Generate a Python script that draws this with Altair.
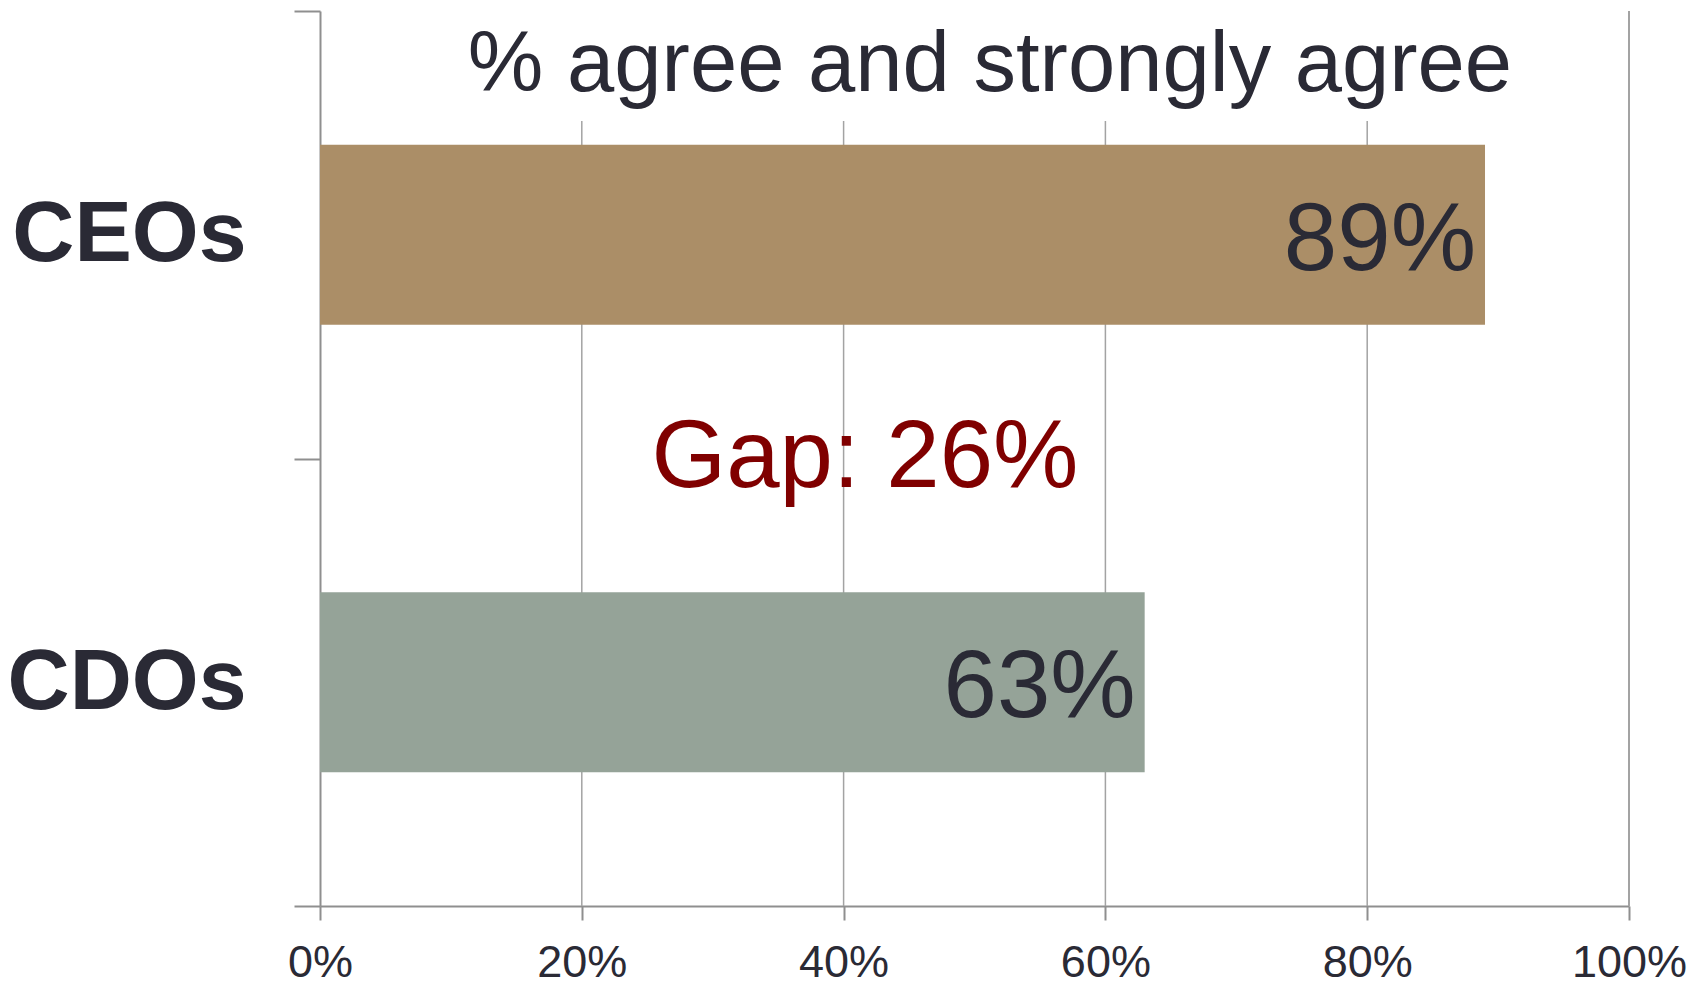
import altair as alt
import pandas as pd

# ---- data ----
categories = ["CEOs", "CDOs"]
values = [89, 63]
bar_colors = ["#ab8e67", "#95a398"]
x_ticks = [0, 20, 40, 60, 80, 100]
inner_grid = [20, 40, 60, 80]
outer_grid = [100]
title_text = "% agree and strongly agree"
gap_text = f"Gap: {values[0] - values[1]}%"

df = pd.DataFrame({"cat": categories, "val": values, "color": bar_colors,
                   "label": [f"{v}%" for v in values]})

W, H = 1309, 895
FONT = "Liberation Sans"
DARK = "#2a2a35"
AXIS = "#8f8f8f"
GRID = "#a3a3a3"

x_scale = alt.Scale(domain=[0, 100], nice=False, zero=True)
y_scale = alt.Scale(domain=categories, paddingInner=0, paddingOuter=0)

x_enc = alt.X("val:Q", scale=x_scale, title=None,
              axis=alt.Axis(values=x_ticks, labelExpr="datum.value + '%'",
                            grid=False, tickSize=14, tickWidth=2, tickColor=AXIS,
                            domainColor=AXIS, domainWidth=2,
                            labelFont=FONT, labelFontSize=45, labelColor=DARK,
                            labelPadding=20, labelFlush=False))
y_enc = alt.Y("cat:N", scale=y_scale, sort=categories, title=None,
              axis=alt.Axis(tickBand="extent", grid=False, tickSize=26, tickWidth=2,
                            tickColor=AXIS, domainColor=AXIS, domainWidth=2,
                            labelFont=FONT, labelFontSize=86, labelFontWeight="bold",
                            labelColor=DARK, labelPadding=48, labelLimit=0))

grid_inner = alt.Chart(pd.DataFrame({"g": inner_grid})).mark_rule(
    color=GRID, strokeWidth=1.5).encode(
    x=alt.X("g:Q", scale=x_scale), y=alt.value(110), y2=alt.value(H))
grid_outer = alt.Chart(pd.DataFrame({"g": outer_grid})).mark_rule(
    color=GRID, strokeWidth=2).encode(
    x=alt.X("g:Q", scale=x_scale), y=alt.value(0), y2=alt.value(H))

bars = alt.Chart(df).mark_bar(size=180).encode(
    x=x_enc, y=y_enc, color=alt.Color("color:N", scale=None))

bar_labels = alt.Chart(df).mark_text(
    align="right", baseline="middle", dx=-9, dy=6, font=FONT, fontSize=96,
    color=DARK).encode(
    x=alt.X("val:Q", scale=x_scale), y=alt.Y("cat:N", scale=y_scale, sort=categories),
    text="label:N")

title = alt.Chart(pd.DataFrame({"t": [title_text]})).mark_text(
    align="center", baseline="alphabetic", font=FONT, fontSize=85, color=DARK).encode(
    x=alt.value(670), y=alt.value(80), text="t:N")

gap = alt.Chart(pd.DataFrame({"t": [gap_text]})).mark_text(
    align="center", baseline="alphabetic", font=FONT, fontSize=96, color="#800000").encode(
    x=alt.value(545), y=alt.value(476), text="t:N")

chart = alt.layer(grid_inner, grid_outer, bars, bar_labels, title, gap).properties(
    width=W, height=H,
    background="white",
    autosize=alt.AutoSizeParams(type="none"),
    padding={"left": 320, "top": 11, "right": 76, "bottom": 79},
).configure_view(stroke=None)

chart.save("out.html", embed_options={"renderer": "svg", "actions": False})
